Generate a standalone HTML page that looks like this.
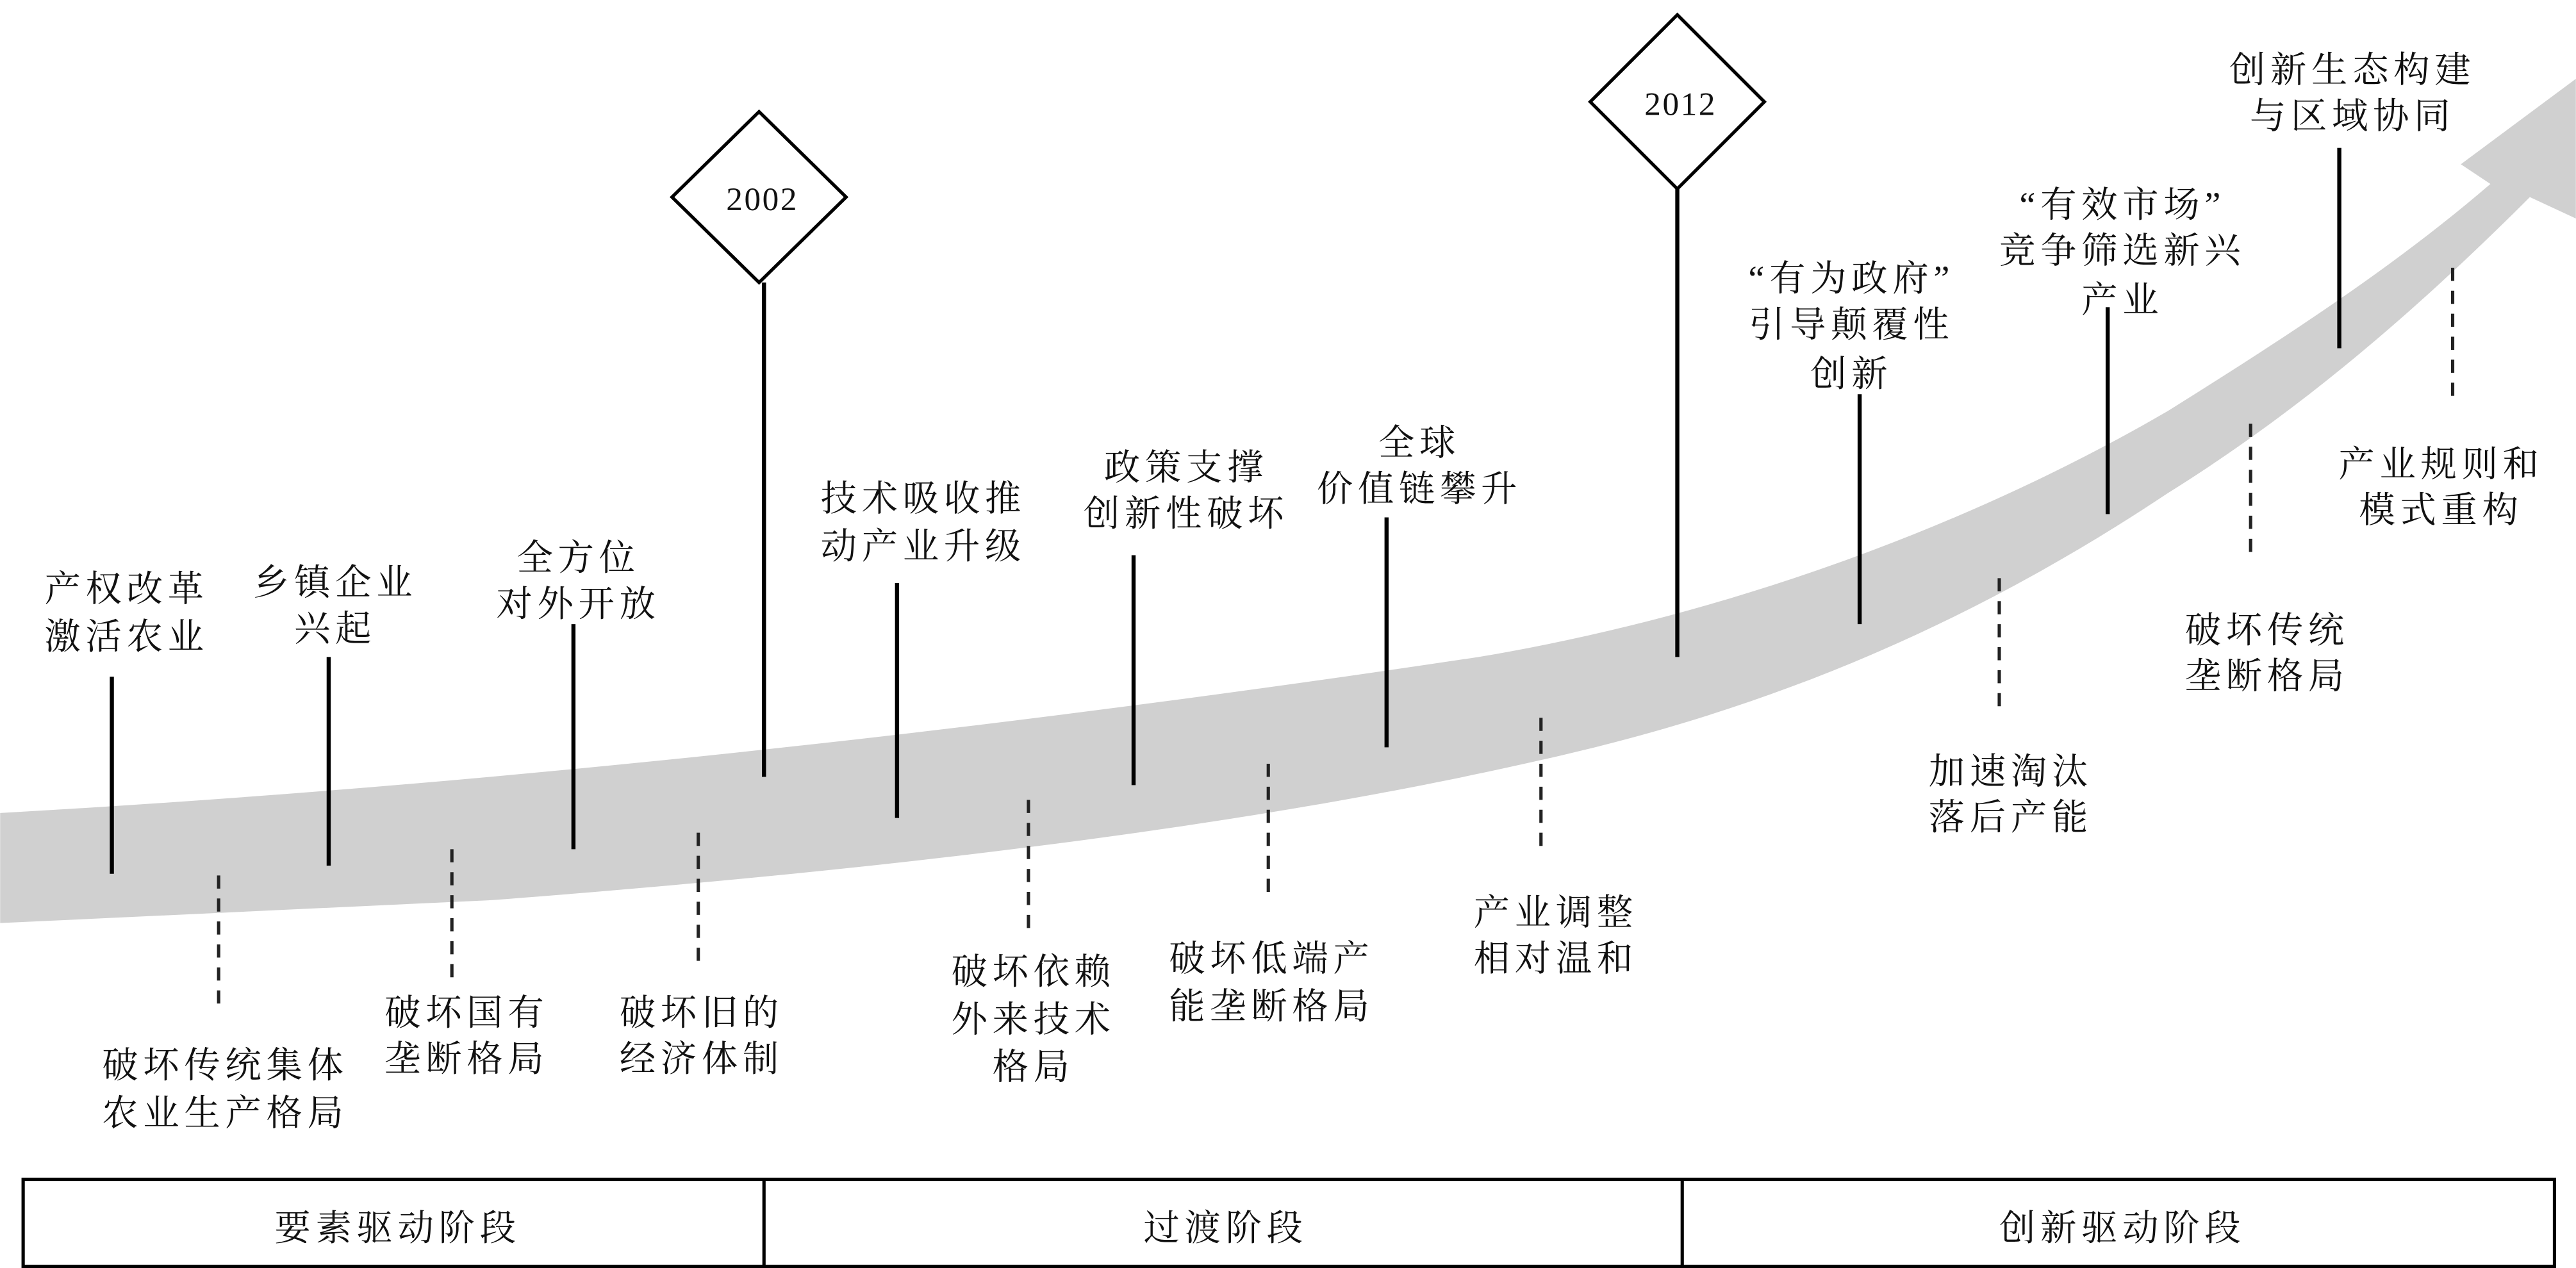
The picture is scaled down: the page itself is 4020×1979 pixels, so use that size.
<!DOCTYPE html>
<html><head><meta charset="utf-8"><style>
html,body{margin:0;padding:0;background:#fff;}
svg{display:block}
text{font-family:"Liberation Serif","Noto Serif CJK SC","Noto Sans CJK SC",serif;font-size:22px;fill:#111;text-anchor:middle;letter-spacing:3px}
</style></head><body>
<svg width="4020" height="1979" viewBox="0 0 1568 772" xmlns="http://www.w3.org/2000/svg">
<path d="M0,495 C300,478 600,445 900,400 C1050,375 1200,320 1320,250 C1400,200 1460,160 1516,112 L1498,100 L1568,48 L1568,133 L1540,120 C1470,190 1400,250 1320,300 C1200,380 1080,430 950,460 C800,495 600,525 300,548 L0,562 Z" fill="#d0d0d0"/>
<g stroke="#000" stroke-width="2.5">
<line x1="68" y1="412" x2="68" y2="532"/>
<line x1="200" y1="400" x2="200" y2="527"/>
<line x1="349" y1="380" x2="349" y2="517"/>
<line x1="465" y1="172" x2="465" y2="473"/>
<line x1="546" y1="355" x2="546" y2="498"/>
<line x1="690" y1="338" x2="690" y2="478"/>
<line x1="844" y1="315" x2="844" y2="455"/>
<line x1="1021" y1="115" x2="1021" y2="400"/>
<line x1="1132" y1="240" x2="1132" y2="380"/>
<line x1="1283" y1="187" x2="1283" y2="313"/>
<line x1="1424" y1="90" x2="1424" y2="212"/>
</g>
<g stroke="#222" stroke-width="2" stroke-dasharray="8,6">
<line x1="133" y1="533" x2="133" y2="612"/>
<line x1="275" y1="517" x2="275" y2="597"/>
<line x1="425" y1="507" x2="425" y2="588"/>
<line x1="626" y1="487" x2="626" y2="567"/>
<line x1="772" y1="465" x2="772" y2="545"/>
<line x1="938" y1="437" x2="938" y2="520"/>
<line x1="1217" y1="352" x2="1217" y2="432"/>
<line x1="1370" y1="258" x2="1370" y2="338"/>
<line x1="1493" y1="163" x2="1493" y2="243"/>
</g>
<polygon points="462,68 515,120 462,172 409,120" fill="#fff" stroke="#000" stroke-width="2"/>
<polygon points="1021,9 1074,62 1021,115 968,62" fill="#fff" stroke="#000" stroke-width="2"/>
<text x="464" y="128" style="font-size:20px;letter-spacing:1px">2002</text>
<text x="1023" y="70" style="font-size:20px;letter-spacing:1px">2012</text>
<g>
<text x="77" y="366">产权改革</text><text x="77" y="395">激活农业</text>
<text x="204" y="362">乡镇企业</text><text x="204" y="390">兴起</text>
<text x="352" y="347">全方位</text><text x="352" y="375">对外开放</text>
<text x="562" y="311">技术吸收推</text><text x="562" y="340">动产业升级</text>
<text x="722" y="292">政策支撑</text><text x="722" y="320">创新性破坏</text>
<text x="864" y="277">全球</text><text x="864" y="305">价值链攀升</text>
<text x="1127" y="177">“有为政府”</text><text x="1127" y="205">引导颠覆性</text><text x="1127" y="235">创新</text>
<text x="1292" y="132">“有效市场”</text><text x="1292" y="160">竞争筛选新兴</text><text x="1292" y="190">产业</text>
<text x="1432" y="50">创新生态构建</text><text x="1432" y="78">与区域协同</text>
<text x="137" y="656">破坏传统集体</text><text x="137" y="685">农业生产格局</text>
<text x="284" y="624">破坏国有</text><text x="284" y="652">垄断格局</text>
<text x="427" y="624">破坏旧的</text><text x="427" y="652">经济体制</text>
<text x="629" y="599">破坏依赖</text><text x="629" y="628">外来技术</text><text x="629" y="657">格局</text>
<text x="774" y="591">破坏低端产</text><text x="774" y="620">能垄断格局</text>
<text x="947" y="563">产业调整</text><text x="947" y="591">相对温和</text>
<text x="1224" y="477">加速淘汰</text><text x="1224" y="505">落后产能</text>
<text x="1380" y="391">破坏传统</text><text x="1380" y="419">垄断格局</text>
<text x="1486" y="290">产业规则和</text><text x="1486" y="318">模式重构</text>
</g>
<rect x="14" y="718" width="1541" height="53" fill="#fff" stroke="#000" stroke-width="2"/>
<line x1="465" y1="718" x2="465" y2="771" stroke="#000" stroke-width="2"/>
<line x1="1024" y1="718" x2="1024" y2="771" stroke="#000" stroke-width="2"/>
<text x="242" y="755">要素驱动阶段</text>
<text x="746" y="755">过渡阶段</text>
<text x="1292" y="755">创新驱动阶段</text>
</svg>
</body></html>
